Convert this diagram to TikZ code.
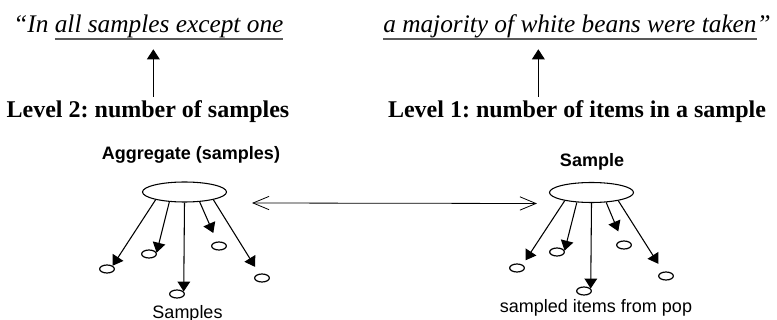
\documentclass[tikz,border=0pt]{standalone}
\usepackage{fontspec}
\setmainfont{Liberation Serif}
\setsansfont{Liberation Sans}
\usepackage{tikz}
\usetikzlibrary{arrows.meta,positioning,shapes.geometric}
\newcommand{\ulbar}[1]{\sbox0{#1}\rlap{\color{black!65}\rule[-5pt]{\wd0}{1.4pt}}\usebox0}
\frenchspacing

\begin{document}
\begin{tikzpicture}[
			x=0.75pt,y=-0.75pt,
			quote/.style={inner sep=0pt,anchor=base west,font=\fontsize{19}{22}\selectfont\itshape},
			level/.style={inner sep=0pt,anchor=base,font=\fontsize{18}{21}\selectfont\bfseries},
			title/.style={inner sep=0pt,anchor=base,font=\fontsize{13.5}{16}\selectfont\sffamily\bfseries},
			caption/.style={inner sep=0pt,anchor=base,font=\fontsize{13.5}{16}\selectfont\sffamily},
			hub/.style={draw,ellipse,minimum width=63pt,minimum height=15pt,inner sep=0pt,line width=0.8pt},
			item/.style={draw,ellipse,minimum width=11pt,minimum height=6pt,inner sep=0pt,line width=0.9pt},
			arrow/.style={-{Triangle[length=7.5pt,width=9.5pt]},line width=0.8pt},
			link/.style={{Straight Barb[length=12pt,width=10pt]}-{Straight Barb[length=12pt,width=10pt]},line width=0.6pt}
			]
			\useasboundingbox (0,0) rectangle (777,320);
			\node[quote] (qleft) at (13,33) {“In \ulbar{all samples except one}};
			\node[quote] (qright) at (383,33) {\ulbar{a majority of white beans were taken}”};
			\node[level] (lvl2) at (148,118) {Level 2: number of samples};
			\node[level] (lvl1) at (577,118) {Level 1: number of items in a sample};
			\draw[arrow,shorten <=3pt,shorten >=7pt] ([xshift=4pt]lvl2.north) -- ([xshift=4pt]lvl2.north |- qleft.south);
			\draw[arrow,shorten <=3pt,shorten >=7pt] ([xshift=-29pt]lvl1.north) -- ([xshift=-29pt]lvl1.north |- qright.south);
			\node[title] (aggname) at (191,160) {Aggregate (samples)};
			\node[hub] (agg) at (184.5,192) {};
			\node[title] (sampname) at (592,167) {Sample};
			\node[hub] (samp) at (591.5,192.5) {};
			\foreach \n/\x/\y in {1/107/269,2/149/254,3/177/294,4/219/246,5/262/278}
				\node[item] (a\n) at (\x,\y) {};
			\foreach \n/\x/\y in {1/517/268,2/557/252,3/584/291,4/624/245,5/666/276}
				\node[item] (s\n) at (\x,\y) {};
			\draw[arrow] (agg.195)--(a1.30);
			\draw[arrow] (agg.213)--(a2.10);
			\draw[arrow] (agg.270)--(a3.20);
			\draw[arrow,shorten >=7pt] (agg.327)--(a4);
			\draw[arrow,shorten >=6pt] (agg.345)--(a5);
			\draw[arrow,shorten >=4pt] (samp.197)--(s1.30);
			\draw[arrow] (samp.214)--(s2.10);
			\draw[arrow] (samp.270)--(s3.20);
			\draw[arrow,shorten >=7.5pt] (samp.326)--(s4);
			\draw[arrow,shorten >=7pt] (samp.343)--(s5);
			\draw[link] ([shift={(25,11)}]agg.east)--([shift={(-12,11)}]samp.west);
			\node[caption] (aggitems) at (187.5,318) {Samples};
			\node[caption] (sampitems) at (596,312.5) {sampled items from pop};
		\end{tikzpicture}
\end{document}
